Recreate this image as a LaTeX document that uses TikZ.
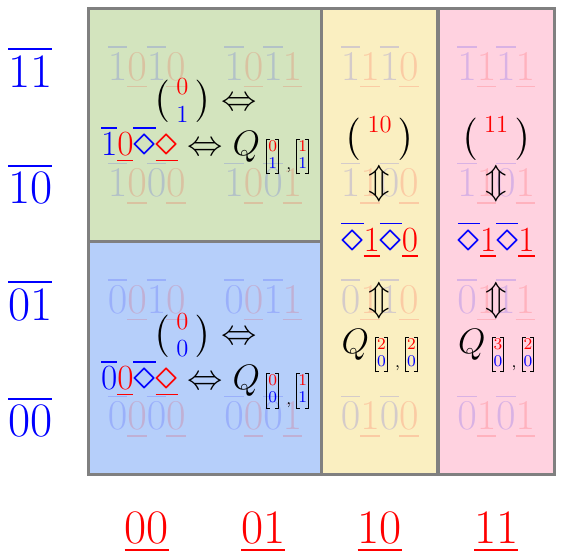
\RequirePackage{fix-cm}
\documentclass[tikz,border=0pt]{standalone}
\usepackage{amsmath}
\definecolor{verde}{RGB}{211,228,190}
\definecolor{azulclaro}{RGB}{182,207,250}
\definecolor{amarillo}{RGB}{250,239,193}
\definecolor{rosa}{RGB}{255,210,224}
\definecolor{gris}{RGB}{128,128,128}
\newcommand{\azul}[1]{{\color{blue}\overline{\vphantom{0}#1}}}
\newcommand{\rojo}[1]{{\color{red}\underline{#1}}}
\newcommand{\rombo}{\mathord{\scalebox{1.25}{$\diamond$}}}
\newcommand{\puntal}{\vrule height 5.9pt depth 2.4pt width 0pt}
\newcommand{\serifa}{\lower\dimen2\vbox{\hrule width 1.5pt height .5pt
    \vskip\dimexpr\dimen0+\dimen2-1pt\relax \hrule width 1.5pt height .5pt}}
\newcommand{\qm}[2]{\lower2.5pt\hbox{\footnotesize
    \setbox0=\hbox{\renewcommand{\arraystretch}{0.5}%
        $\begin{array}{@{}c@{}}\puntal\color{red}#1\\\puntal\color{blue}#2\end{array}$}%
    \dimen0=\dimexpr\ht0+0.4pt\relax \dimen2=\dimexpr\dp0+0.4pt\relax
    \vrule width .5pt height\dimen0 depth\dimen2 \serifa\kern-1pt
    \box0 \kern-1pt\serifa \vrule width .5pt height\dimen0 depth\dimen2}}
\newcommand{\Qsub}[4]{Q\kern3pt\qm{#1}{#2}\kern3.5pt\lower7pt\hbox{\footnotesize,}\kern2.5pt\qm{#3}{#4}}
\begin{document}
\begin{tikzpicture}[
    region/.style={draw=gris, line width=1.5pt},
    celda/.style={font=\huge, text opacity=0.15},
    eje/.style={font=\fontsize{23.5}{28}\selectfont},
    texto/.style={font=\LARGE}]
    \useasboundingbox (-1.52,-1.452) rectangle (8.146,8.146);

    % Regiones
    \draw[region, fill=verde] (0,4) rectangle (4,8);
    \draw[region, fill=azulclaro] (0,0) rectangle (4,4);
    \draw[region, fill=amarillo] (4,0) rectangle (6,8);
    \draw[region, fill=rosa] (6,0) rectangle (8,8);

    % Etiquetas de filas y columnas
    \foreach \a/\b [count=\i] in {0/0,0/1,1/0,1/1} {
        \node[eje] (fila\a\b) at (-1,2*\i-1) {$\azul{\a\b}$};
        \node[eje] (col\a\b) at (2*\i-1,-1) {$\rojo{\a\b}$};
    }

    % Celdas
    \foreach \a/\b [count=\i] in {0/0,0/1,1/0,1/1}
        \foreach \c/\d [count=\j] in {0/0,0/1,1/0,1/1}
            \node[celda] (c\a\b\c\d) at (2*\j-1,2*\i-1) {$\azul{\a}\rojo{\c}\azul{\b}\rojo{\d}$};

    % Textos de las regiones
    \node[texto, align=center] (t01) at (2,5.97)
        {$\binom{\;\color{red}0\;}{\;\color{blue}1\;}\Leftrightarrow$\\
         $\azul{1}\rojo{0}\azul{\rombo}\rojo{\rombo}\Leftrightarrow \Qsub{0}{1}{1}{1}$};
    \node[texto, align=center] (t00) at (2,1.95)
        {$\binom{\;\color{red}0\;}{\;\color{blue}0\;}\Leftrightarrow$\\
         $\azul{0}\rojo{0}\azul{\rombo}\rojo{\rombo}\Leftrightarrow \Qsub{0}{0}{1}{1}$};

    \node[texto] (b10) at (5,5.76) {$\binom{\;\color{red}10\;}{}$};
    \node[texto] (f10a) at (5,5.0) {$\Updownarrow$};
    \node[texto] (d10) at (5,4.03) {$\azul{\rombo}\rojo{1}\azul{\rombo}\rojo{0}$};
    \node[texto] (f10b) at (5,2.99) {$\Updownarrow$};
    \node[texto] (q10) at (5,2.12) {$\Qsub{2}{0}{2}{0}$};

    \node[texto] (b11) at (7,5.76) {$\binom{\;\color{red}11\;}{}$};
    \node[texto] (f11a) at (7,5.0) {$\Updownarrow$};
    \node[texto] (d11) at (7,4.03) {$\azul{\rombo}\rojo{1}\azul{\rombo}\rojo{1}$};
    \node[texto] (f11b) at (7,2.99) {$\Updownarrow$};
    \node[texto] (q11) at (7,2.12) {$\Qsub{3}{0}{2}{0}$};
\end{tikzpicture}
\end{document}
